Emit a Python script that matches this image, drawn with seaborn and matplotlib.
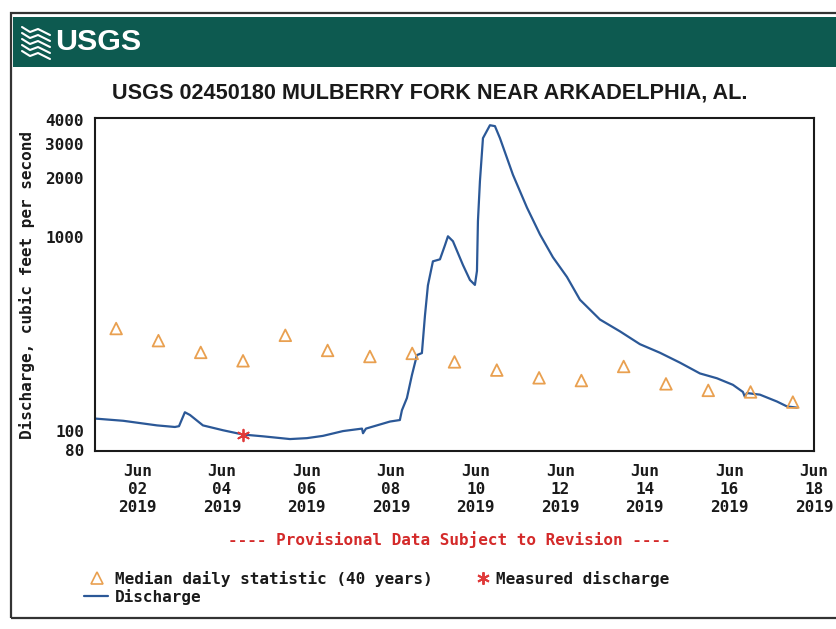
import matplotlib
matplotlib.use("Agg")
import matplotlib.pyplot as plt
import matplotlib.dates as mdates
from matplotlib.patches import Rectangle
from matplotlib.lines import Line2D
from matplotlib.ticker import NullLocator, FixedLocator, FixedFormatter
import pandas as pd
import seaborn as sns

# ---- data -------------------------------------------------------------
flow_times = [
    "2019-06-01 00:00", "2019-06-01 16:00", "2019-06-02 11:10", "2019-06-02 21:20",
    "2019-06-02 23:40", "2019-06-03 03:00", "2019-06-03 05:55", "2019-06-03 13:15",
    "2019-06-04 00:40", "2019-06-04 12:00", "2019-06-04 23:20", "2019-06-05 14:40",
    "2019-06-06 00:15", "2019-06-06 09:20", "2019-06-06 20:40", "2019-06-07 07:30",
    "2019-06-07 08:05", "2019-06-07 09:45", "2019-06-07 23:25", "2019-06-08 05:00",
    "2019-06-08 06:10", "2019-06-08 09:00", "2019-06-08 11:50", "2019-06-08 14:40",
    "2019-06-08 17:30", "2019-06-08 19:15", "2019-06-08 20:55", "2019-06-08 23:45",
    "2019-06-09 03:45", "2019-06-09 06:35", "2019-06-09 08:17", "2019-06-09 11:07",
    "2019-06-09 16:48", "2019-06-09 20:46", "2019-06-09 23:35", "2019-06-10 00:45",
    "2019-06-10 01:18", "2019-06-10 02:26", "2019-06-10 04:09", "2019-06-10 08:07",
    "2019-06-10 10:57", "2019-06-10 13:47", "2019-06-10 21:10", "2019-06-11 05:07",
    "2019-06-11 12:29", "2019-06-11 19:51", "2019-06-12 03:48", "2019-06-12 11:11",
    "2019-06-12 22:32", "2019-06-13 09:52", "2019-06-13 21:13", "2019-06-14 08:34",
    "2019-06-14 19:55", "2019-06-15 07:16", "2019-06-15 16:54", "2019-06-16 01:59",
    "2019-06-16 07:40", "2019-06-16 08:47", "2019-06-16 09:55", "2019-06-16 17:18",
    "2019-06-17 02:57", "2019-06-17 08:37", "2019-06-17 14:18",
]
flow_cfs = [
    116, 113, 107, 105,
    106, 125, 121, 107,
    101, 96, 94, 91,
    92, 94.5, 100, 103,
    97.5, 103, 112, 114,
    128, 148, 194, 246,
    252, 394, 562, 747,
    765, 904, 1005, 948,
    715, 599, 565, 667,
    1203, 1930, 3213, 3745,
    3705, 3215, 2082, 1412,
    1028, 784, 621, 474,
    375, 326, 280, 253,
    225, 198, 187, 173,
    159, 150, 157, 154,
    142, 134, 132,
]

median_days = [f"2019-06-{d:02d} 12:00" for d in range(1, 18)]
median_cfs = [337, 292, 254, 230, 311, 260, 242, 251, 227,
              206, 188, 182, 215, 175, 162, 159, 141]

measured_times = ["2019-06-04 12:00"]
measured_cfs = [96]

tick_days = ["2019-06-02", "2019-06-04", "2019-06-06", "2019-06-08", "2019-06-10",
             "2019-06-12", "2019-06-14", "2019-06-16", "2019-06-18"]
y_ticks = [80, 100, 1000, 2000, 3000, 4000]
y_tick_labels = ["80", "100", "1000", "2000", "3000", "4000"]

flow = pd.DataFrame({"time": pd.to_datetime(flow_times), "cfs": flow_cfs})
median = pd.DataFrame({"time": pd.to_datetime(median_days), "cfs": median_cfs})
measured = pd.DataFrame({"time": pd.to_datetime(measured_times), "cfs": measured_cfs})

# ---- style ------------------------------------------------------------
sns.set_style("white")
plt.rcParams["font.family"] = ["DejaVu Sans Mono", "DejaVu Sans"]
plt.rcParams["font.weight"] = "bold"

W, H = 836, 629
fig = plt.figure(figsize=(W / 100, H / 100), dpi=100)
fig.patch.set_facecolor("white")
renderer = fig.canvas.get_renderer()


def fx(px):
    return px / W


def fy(py):
    return 1 - py / H


def fit_width(text, width_px):
    """Scale a text's font size so it spans the given width in pixels."""
    ext = text.get_window_extent(renderer=renderer)
    text.set_fontsize(text.get_fontsize() * width_px / ext.width)


HEAD_FONT = ["Liberation Sans", "DejaVu Sans"]
INK = "#1a1a1a"

# page frame and header band
fig.patches.append(Rectangle((fx(11), fy(618)), fx(840) - fx(11), fy(13) - fy(618),
                             transform=fig.transFigure, fill=False,
                             edgecolor="#333333", linewidth=1.6))
fig.patches.append(Rectangle((fx(13), fy(67)), 1.0, fy(17) - fy(67),
                             transform=fig.transFigure, facecolor="#0d5a50",
                             edgecolor="none"))

# logo mark: stacked white waves
for i in range(5):
    y0 = 27 + i * 6
    xs = [fx(22), fx(30), fx(38), fx(50)]
    ys = [fy(y0), fy(y0 + 5), fy(y0 + 2), fy(y0 + 8)]
    fig.add_artist(Line2D(xs, ys, color="white", linewidth=1.5,
                          transform=fig.transFigure))
logo = fig.text(fx(55), fy(42), "USGS", color="white", fontsize=24,
                family=HEAD_FONT, weight="bold", ha="left", va="center")
fit_width(logo, 86)

title = fig.text(fx(430), fy(93), "USGS 02450180 MULBERRY FORK NEAR ARKADELPHIA, AL.",
                 fontsize=16, family=HEAD_FONT, weight="bold", color=INK,
                 ha="center", va="center")
fit_width(title, 636)

# ---- plot area --------------------------------------------------------
ax = fig.add_axes([fx(95), fy(451), fx(814) - fx(95), fy(118) - fy(451)])
ax.set_facecolor("white")

sns.lineplot(data=flow, x="time", y="cfs", ax=ax, color="#2b5897",
             linewidth=1.6, estimator=None, sort=False, legend=False)
sns.scatterplot(data=median, x="time", y="cfs", ax=ax, marker="^", s=70,
                facecolor="none", edgecolor="#e9a050", linewidth=1.3,
                legend=False, zorder=3)
sns.scatterplot(data=measured, x="time", y="cfs", ax=ax, marker=(6, 2, 0),
                s=70, color="#e03a3a", linewidth=1.3, legend=False, zorder=4)

ax.set_yscale("log")
ax.set_ylim(79, 4080)
ax.yaxis.set_major_locator(FixedLocator(y_ticks))
ax.yaxis.set_major_formatter(FixedFormatter(y_tick_labels))
ax.yaxis.set_minor_locator(NullLocator())

ax.set_xlim(pd.Timestamp("2019-06-01"), pd.Timestamp("2019-06-18"))
tick_ts = pd.to_datetime(tick_days)
ax.set_xticks(mdates.date2num(tick_ts))
ax.set_xticklabels([t.strftime("Jun\n%d\n%Y") for t in tick_ts],
                   linespacing=1.25)
ax.xaxis.set_minor_locator(NullLocator())

ax.tick_params(axis="both", length=0, labelsize=11.5, colors=INK)
ax.tick_params(axis="x", pad=9)
ax.tick_params(axis="y", pad=8)
for lab in ax.get_xticklabels() + ax.get_yticklabels():
    lab.set_fontweight("bold")
ax.set_xlabel("")
ax.set_ylabel("")
for sp in ax.spines.values():
    sp.set_color(INK)
    sp.set_linewidth(1.5)

fig.text(fx(27), fy(285), "Discharge, cubic feet per second", rotation=90,
         fontsize=11.5, weight="bold", color=INK, ha="center", va="center")

fig.text(fx(449), fy(540), "---- Provisional Data Subject to Revision ----",
         fontsize=11.5, weight="bold", color="#d42a2a", ha="center", va="center")

# ---- legend -----------------------------------------------------------
fig.add_artist(Line2D([fx(97)], [fy(578)], marker="^", markersize=8,
                      markerfacecolor="none", markeredgecolor="#e9a050",
                      markeredgewidth=1.2, linestyle="none",
                      transform=fig.transFigure))
fig.text(fx(115), fy(579), "Median daily statistic (40 years)", fontsize=11.5,
         weight="bold", color=INK, ha="left", va="center")
fig.add_artist(Line2D([fx(483)], [fy(578)], marker=(6, 2, 0), markersize=9,
                      markeredgecolor="#e03a3a", markeredgewidth=1.4,
                      linestyle="none", transform=fig.transFigure))
fig.text(fx(496), fy(579), "Measured discharge", fontsize=11.5,
         weight="bold", color=INK, ha="left", va="center")
fig.add_artist(Line2D([fx(84), fx(108)], [fy(596), fy(596)], color="#2b5897",
                      linewidth=1.6, transform=fig.transFigure))
fig.text(fx(115), fy(597), "Discharge", fontsize=11.5,
         weight="bold", color=INK, ha="left", va="center")

fig.savefig("out.png", dpi=100, facecolor=fig.get_facecolor())
